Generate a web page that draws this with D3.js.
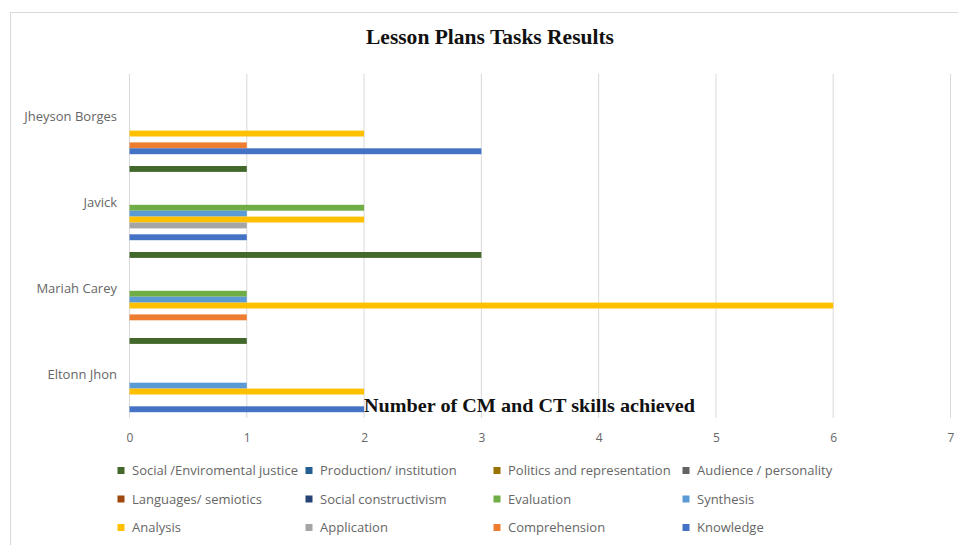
<!DOCTYPE html>
<html>
<head>
<meta charset="utf-8">
<script src="https://cdn.jsdelivr.net/npm/d3@7"></script>
<style>
  body { margin: 0; background: #fff; }
  text { font-family: "Open Sans", "Noto Sans", sans-serif; }
</style>
</head>
<body>
<div id="chart"></div>
<script>
// categories, top to bottom
var students = ["Jheyson Borges", "Javick", "Mariah Carey", "Eltonn Jhon"];
var ticks = [0, 1, 2, 3, 4, 5, 6, 7];

// legend order
var skills = ["Social /Enviromental justice", "Production/ institution", "Politics and representation",
  "Audience / personality", "Languages/ semiotics", "Social constructivism", "Evaluation", "Synthesis",
  "Analysis", "Application", "Comprehension", "Knowledge"];
var colors = ["#43682B", "#255E91", "#997300", "#636363", "#9E480E", "#264478", "#70AD47", "#5B9BD5",
  "#FFC000", "#A5A5A5", "#ED7D31", "#4472C4"];

// order of the bars inside a group, bottom to top
var barOrder = ["Social /Enviromental justice", "Production/ institution", "Politics and representation",
  "Knowledge", "Comprehension", "Application", "Analysis", "Synthesis", "Evaluation",
  "Social constructivism", "Languages/ semiotics", "Audience / personality"];

// values per skill, in the order of students
var socialJustice = [1, 3, 1, 0];
var production = [0, 0, 0, 0];
var politics = [0, 0, 0, 0];
var audience = [0, 0, 0, 0];
var languages = [0, 0, 0, 0];
var socialConstructivism = [0, 0, 0, 0];
var evaluation = [0, 2, 1, 0];
var synthesis = [0, 1, 1, 1];
var analysis = [2, 2, 6, 2];
var application = [0, 1, 0, 0];
var comprehension = [1, 0, 1, 0];
var knowledge = [3, 1, 0, 2];

var values = [socialJustice, production, politics, audience, languages, socialConstructivism,
  evaluation, synthesis, analysis, application, comprehension, knowledge];

var W = 958, H = 545;
var svg = d3.select("#chart").append("svg")
  .attr("width", W).attr("height", H);

// outer frame
svg.append("rect")
  .attr("x", 10.5).attr("y", 12.5)
  .attr("width", 960).attr("height", 560)
  .attr("fill", "#fff").attr("stroke", "#d9d9d9");

var x = d3.scaleLinear().domain([0, 7]).range([129.5, 950.5]);
var y = d3.scaleBand().domain(students).range([74, 418]);
var barShift = 19.5;
var yi = d3.scaleBand().domain(barOrder.slice().reverse())
  .range([-35.4, 35.4]);

// gridlines
svg.append("g").selectAll("line")
  .data(ticks).enter().append("line")
    .attr("x1", d => x(d)).attr("x2", d => x(d))
    .attr("y1", 74).attr("y2", 418)
    .attr("stroke", "#d9d9d9").attr("stroke-width", 1);

// x axis labels
var xAxis = svg.append("g")
  .attr("transform", "translate(0,433)")
  .call(d3.axisBottom(x).tickValues(ticks).tickFormat(d3.format("d")).tickSize(0).tickPadding(0));
xAxis.select(".domain").remove();
xAxis.selectAll("text")
  .attr("fill", "#666").style("font-size", "12px");

// category labels
svg.append("g").selectAll("text")
  .data(students).enter().append("text")
    .attr("x", 117)
    .attr("y", d => y(d) + y.bandwidth() / 2 + 4)
    .attr("text-anchor", "end")
    .attr("fill", "#666")
    .style("font-size", "13px")
    .text(d => d);

// bars
var rows = [];
skills.forEach(function(s, i) {
  students.forEach(function(st, j) {
    rows.push({skill: s, student: st, value: values[i][j], color: colors[i]});
  });
});

svg.append("g").selectAll("rect")
  .data(rows.filter(d => d.value > 0)).enter().append("rect")
    .attr("x", x(0))
    .attr("y", d => y(d.student) + y.bandwidth() / 2 + barShift + yi(d.skill))
    .attr("width", d => x(d.value) - x(0))
    .attr("height", yi.bandwidth())
    .attr("fill", d => d.color);

// title
svg.append("text")
  .attr("x", 490).attr("y", 44)
  .attr("text-anchor", "middle")
  .style("font-family", "'Liberation Serif', 'DejaVu Serif', serif")
  .style("font-weight", "bold")
  .style("font-size", "20px")
  .attr("textLength", 248).attr("lengthAdjust", "spacingAndGlyphs")
  .attr("fill", "#111")
  .text("Lesson Plans Tasks Results");

// axis title
svg.append("text")
  .attr("x", 364).attr("y", 412)
  .style("font-family", "'Liberation Serif', 'DejaVu Serif', serif")
  .style("font-weight", "bold")
  .style("font-size", "19px")
  .attr("textLength", 331).attr("lengthAdjust", "spacingAndGlyphs")
  .attr("fill", "#111")
  .text("Number of CM and CT skills achieved");

// legend
var legX = [121, 309, 497, 686];
var legY = [470.5, 499, 527.5];
var leg = svg.append("g").selectAll("g")
  .data(skills).enter().append("g")
    .attr("transform", (d, i) => "translate(" + legX[i % 4] + "," + legY[Math.floor(i / 4)] + ")");
leg.append("rect")
  .attr("x", -3.5).attr("y", -3.5)
  .attr("width", 7).attr("height", 7)
  .attr("fill", (d, i) => colors[i]);
leg.append("text")
  .attr("x", 11).attr("y", 4.5)
  .attr("fill", "#666")
  .style("font-size", "13px")
  .text(d => d);
</script>
</body>
</html>
